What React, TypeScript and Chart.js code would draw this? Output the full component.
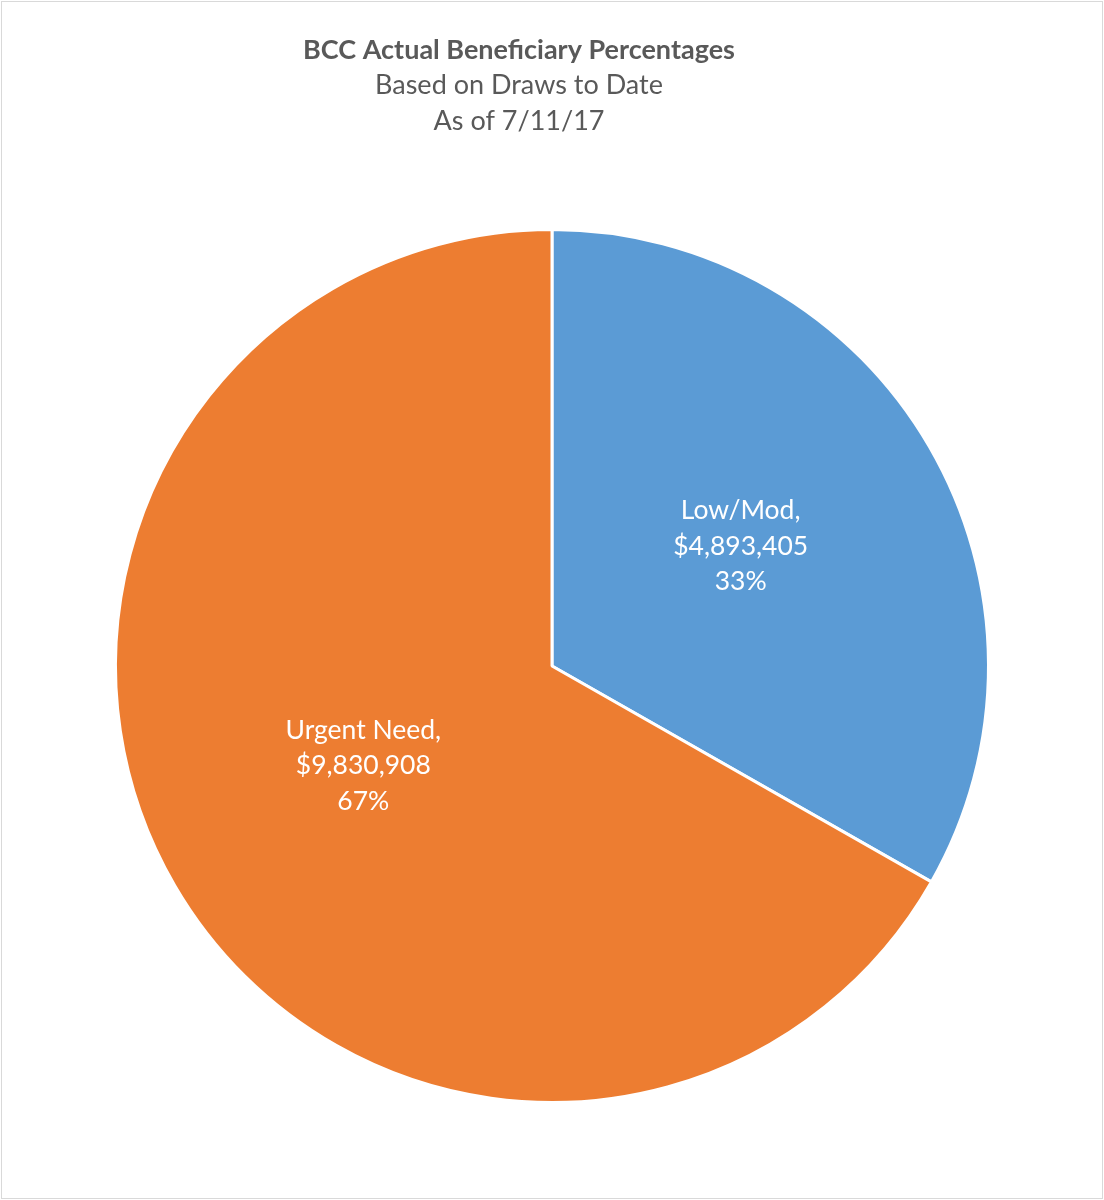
import React, { useEffect, useRef } from "react";
import { Chart, registerables } from "chart.js";

Chart.register(...registerables);

const categories: string[] = ["Low/Mod", "Urgent Need"];
const amounts: number[] = [4893405, 9830908];
const percentLabels: string[] = ["33%", "67%"];
const sliceColors: string[] = ["#5B9BD5", "#ED7D31"];
const titleText = "BCC Actual Beneficiary Percentages";
const subtitleLines: string[] = ["Based on Draws to Date", "As of 7/11/17"];

const FONT = "Lato, 'Open Sans', sans-serif";

const fmtMoney = (v: number) => "$" + v.toLocaleString("en-US");

const headerPlugin = {
  id: "header",
  afterDraw(chart: any) {
    const ctx = chart.ctx;
    const cx = chart.width / 2 - 33;
    ctx.save();
    ctx.fillStyle = "#595959";
    ctx.textAlign = "center";
    ctx.textBaseline = "middle";
    ctx.font = `bold 27px ${FONT}`;
    ctx.fillText(titleText, cx, 48);
    ctx.font = `27px ${FONT}`;
    subtitleLines.forEach((ln, i) => ctx.fillText(ln, cx, 83 + i * 36));
    ctx.restore();
  },
};

const sliceLabelPlugin = {
  id: "sliceLabels",
  afterDatasetsDraw(chart: any) {
    const meta = chart.getDatasetMeta(0);
    const ctx = chart.ctx;
    ctx.save();
    ctx.fillStyle = "#FFFFFF";
    ctx.font = `26.5px ${FONT}`;
    ctx.textAlign = "center";
    ctx.textBaseline = "middle";
    meta.data.forEach((arc: any, i: number) => {
      const pos = arc.tooltipPosition();
      const lines = [
        categories[i] + ",",
        fmtMoney(amounts[i]),
        percentLabels[i],
      ];
      const lh = 35.5;
      const startY = pos.y - 10 - lh;
      lines.forEach((ln, k) => ctx.fillText(ln, pos.x, startY + k * lh));
    });
    ctx.restore();
  },
};

export default function App() {
  const ref = useRef<HTMLCanvasElement | null>(null);

  useEffect(() => {
    document.body.style.margin = "0";
    if (!ref.current) return;
    const chart = new Chart(ref.current, {
      type: "pie",
      data: {
        labels: categories,
        datasets: [
          {
            data: amounts,
            backgroundColor: sliceColors,
            borderColor: "#FFFFFF",
            borderWidth: 3,
          },
        ],
      },
      options: {
        animation: false,
        responsive: true,
        maintainAspectRatio: false,
        layout: { padding: { top: 226, bottom: 94, left: 0, right: 0 } },
        plugins: {
          legend: { display: false },
          tooltip: { enabled: false },
          title: { display: false },
          subtitle: { display: false },
        },
      },
      plugins: [sliceLabelPlugin, headerPlugin],
    });
    return () => chart.destroy();
  }, []);

  return (
    <div
      style={{
        width: 1104,
        height: 1200,
        padding: 1,
        boxSizing: "border-box",
        background: "#FFFFFF",
      }}
    >
      <div
        style={{
          width: "100%",
          height: "100%",
          border: "1px solid #D9D9D9",
          boxSizing: "border-box",
          position: "relative",
        }}
      >
        <canvas ref={ref} />
      </div>
    </div>
  );
}
